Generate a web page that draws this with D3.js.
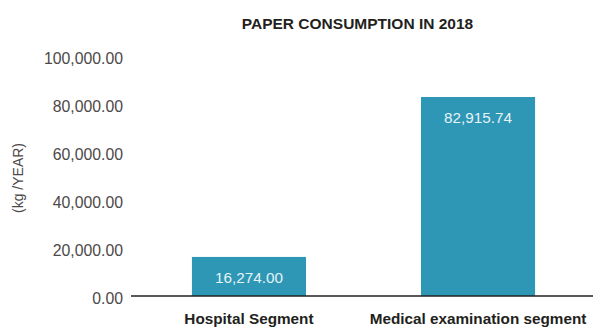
<!DOCTYPE html>
<html>
<head>
<meta charset="utf-8">
<script src="https://cdn.jsdelivr.net/npm/d3@7"></script>
<style>
  html, body { margin: 0; padding: 0; background: #fff; }
  svg { display: block; font-family: "Liberation Sans", Arial, Helvetica, sans-serif; }
</style>
</head>
<body>
<svg id="chart" width="593" height="327"></svg>
<script>
// Paper consumption per segment, 2018 (kg / year)
const categories = ["Hospital Segment", "Medical examination segment"];
const values = [16274.00, 82915.74];
const yTicks = [0, 20000, 40000, 60000, 80000, 100000];
const chartTitle = "PAPER CONSUMPTION IN 2018";
const yTitle = "(kg /YEAR)";

const svg = d3.select("#chart");
const width = 593, height = 327;
const fmt = d3.format(",.2f");

const x = d3.scaleBand()
  .domain(categories)
  .range([131, 596])
  .paddingInner(0.502)
  .paddingOuter(0.266);

const y = d3.scaleLinear()
  .domain([0, 100000])
  .range([296, 56]);

// Title
svg.append("text")
  .attr("x", 357.5)
  .attr("y", 28.5)
  .attr("text-anchor", "middle")
  .attr("font-size", 15.5)
  .attr("font-weight", "bold")
  .attr("fill", "#231f20")
  .text(chartTitle);

// Y axis labels (no line, no ticks)
const yAxis = d3.axisLeft(y)
  .tickValues(yTicks)
  .tickFormat(fmt)
  .tickSize(0)
  .tickPadding(0);

const yg = svg.append("g")
  .attr("transform", "translate(123,2)")
  .call(yAxis);
yg.select(".domain").remove();
yg.selectAll("text")
  .attr("font-size", 15.8)
  .attr("fill", "#4d4849")
  .attr("font-family", "Liberation Sans, Arial, sans-serif");

// Y axis title
svg.append("text")
  .attr("transform", "translate(23,178) rotate(-90)")
  .attr("text-anchor", "middle")
  .attr("font-size", 14)
  .attr("fill", "#4d4849")
  .text(yTitle);

// Bars
const data = categories.map((c, i) => ({ c, v: values[i] }));

svg.append("g").selectAll("rect")
  .data(data)
  .join("rect")
  .attr("x", d => x(d.c))
  .attr("y", d => y(d.v))
  .attr("width", x.bandwidth())
  .attr("height", d => y(0) - y(d.v))
  .attr("fill", "#2e97b5");

// Value labels inside bars
svg.append("g").selectAll("text")
  .data(data)
  .join("text")
  .attr("x", d => x(d.c) + x.bandwidth() / 2)
  .attr("y", d => y(d.v) + 26)
  .attr("text-anchor", "middle")
  .attr("font-size", 15.3)
  .attr("fill", "#e6f3f7")
  .text(d => fmt(d.v));

// Baseline
svg.append("line")
  .attr("x1", 131)
  .attr("x2", width)
  .attr("y1", y(0))
  .attr("y2", y(0))
  .attr("stroke", "#231f20")
  .attr("stroke-width", 1.3);

// Category labels
svg.append("g").selectAll("text")
  .data(categories)
  .join("text")
  .attr("x", d => x(d) + x.bandwidth() / 2)
  .attr("y", 324)
  .attr("text-anchor", "middle")
  .attr("font-size", 15.3)
  .attr("font-weight", "bold")
  .attr("fill", "#231f20")
  .text(d => d);
</script>
</body>
</html>
